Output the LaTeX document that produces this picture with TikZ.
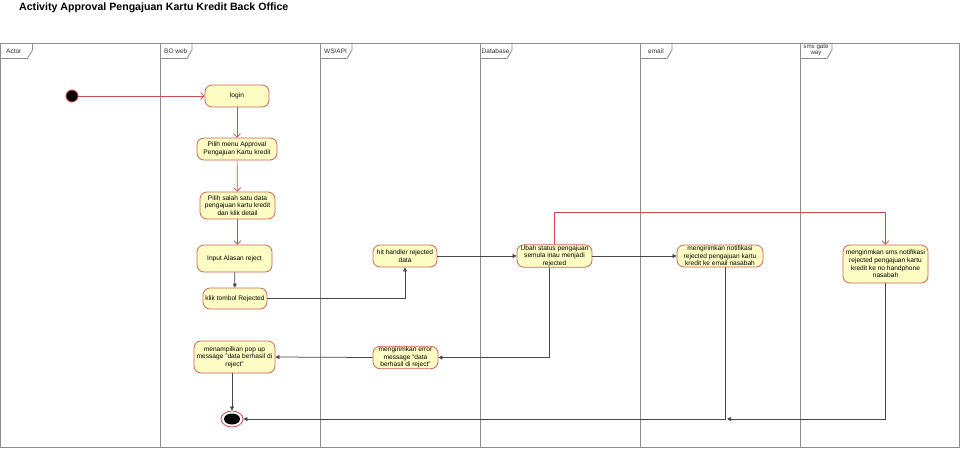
\documentclass[tikz,border=0pt]{standalone}
\usepackage{fontspec}
\setmainfont{Liberation Sans}
\usetikzlibrary{arrows.meta,shapes.geometric}
\definecolor{lanegray}{HTML}{8C8C8C}
\definecolor{nodefill}{HTML}{FEFEC4}
\definecolor{nodeborder}{HTML}{CC6458}
\definecolor{redline}{HTML}{CC4A50}
\begin{document}
\begin{tikzpicture}[x=1pt,y=-1pt,
  act/.style={draw=nodeborder, fill=nodefill, rounded corners=7pt, align=center,
    font=\fontsize{6.6}{7.6}\selectfont, inner sep=0.5pt, line width=0.8pt},
  redarr/.style={draw=redline, line width=0.7pt, -{Straight Barb[length=3.5pt,width=7pt]}},
  blkarr/.style={draw=black!72, line width=0.75pt, -{Triangle[length=4pt,width=4pt]}},
  lane/.style={draw=lanegray, line width=1pt},
  tab/.style={draw=lanegray, line width=0.8pt},
  lanelabel/.style={font=\fontsize{6.5}{6.5}\selectfont, text=black!80, inner sep=0pt}]
\useasboundingbox (0,0) rectangle (960,448);
\fill[white] (0,0) rectangle (960,448);
\node[anchor=west, inner sep=0pt, font=\fontsize{10.6}{12}\selectfont\bfseries] (title) at (19,8) {Activity Approval Pengajuan Kartu Kredit Back Office};
% lanes
\draw[lane] (0.5,43) rectangle (959.5,447.5);
\foreach \x in {160,320,480,640,800} { \draw[lane] (\x,43) -- (\x,447.5); }
\foreach \x in {0.5,160,320,480,640,800} { \draw[tab] (\x,58.5) -- (\x+27,58.5) -- (\x+32,50) -- (\x+32,43); }
\node[lanelabel, anchor=west] (lActor) at (6,51) {Actor};
\node[lanelabel, anchor=west] (lBO) at (164,51) {BO web};
\node[lanelabel, anchor=west] (lWS) at (324,51) {WS/API};
\node[lanelabel, anchor=west] (lDB) at (481.5,51) {Database};
\node[lanelabel, anchor=west] (lEmail) at (648,51) {email};
\node[lanelabel, align=center, font=\fontsize{6.2}{6.2}\selectfont] (lSms) at (816,50.5) {sms gate\\way};
% nodes
\node[circle, fill=black, draw=redline, line width=0.8pt, minimum size=12pt, inner sep=0pt] (start) at (72,96) {};
\node[act, minimum width=64pt, minimum height=22pt] (login) at (237,96) {login};
\node[act, minimum width=80pt, minimum height=22pt] (menu) at (237,149) {Pilih menu Approval\\Pengajuan Kartu kredit};
\node[act, minimum width=75pt, minimum height=27pt] (salah) at (237.5,205.5) {Pilih salah satu data\\pengajuan kartu kredit\\dan klik detail};
\node[act, minimum width=75pt, minimum height=27pt] (input) at (234.5,258.5) {Input Alasan reject};
\node[act, minimum width=64pt, minimum height=21pt] (klik) at (235,298.5) {klik tombol Rejected};
\node[act, minimum width=81pt, minimum height=32pt] (popup) at (234.5,357) {menampilkan pop up\\message "data berhasil di\\reject"};
\node[act, minimum width=64pt, minimum height=22pt] (hit) at (405,256) {hit handler rejected\\data};
\node[act, minimum width=75pt, minimum height=22pt] (ubah) at (554.5,256) {Ubah status pengajuan\\semula inau menjadi\\rejected};
\node[act, minimum width=65pt, minimum height=21pt] (error) at (405.5,357.5) {mengirimkan error\\message "data\\berhasil di reject"};
\node[act, minimum width=86pt, minimum height=22pt] (email) at (720,256) {mengirimkan notifikasi\\rejected pengajuan kartu\\kredit ke email nasabah};
\node[act, minimum width=85pt, minimum height=38pt] (sms) at (885.5,264) {mengirimkan sms notifikasi\\rejected pengajuan kartu\\kredit ke no handphone\\nasabah};
\node[ellipse, draw=redline, fill=white, line width=0.8pt, minimum width=22pt, minimum height=16pt, inner sep=0pt] (final) at (232,419) {};
\node[ellipse, fill=black, minimum width=16pt, minimum height=11pt, inner sep=0pt] (finalin) at (final.center) {};
\coordinate (merge) at (727,419);
% connectors
\draw[redarr] (start) -- (login);
\draw[redarr] (login) -- (menu);
\draw[redarr] (menu) -- (salah);
\draw[redarr] (salah.south) -- (salah.south |- input.north);
\draw[blkarr] (input) -- (klik);
\draw[blkarr] (klik.east) -| (hit.south);
\draw[blkarr] (hit.east) -- (ubah.west);
\draw[blkarr] (ubah.east) -- (email.west);
\draw[redarr] (ubah.north) -- ++(0,-32) -| (sms.north);
\draw[blkarr] ([xshift=-5.5pt]ubah.south) |- (error.east);
\draw[blkarr] (error.west) -- (popup.east);
\draw[blkarr] (final.north |- popup.south) -- (final.north);
\draw[blkarr] ([xshift=5pt]email.south) |- (final.east);
\draw[blkarr] (sms.south) |- (merge);
\end{tikzpicture}
\end{document}
